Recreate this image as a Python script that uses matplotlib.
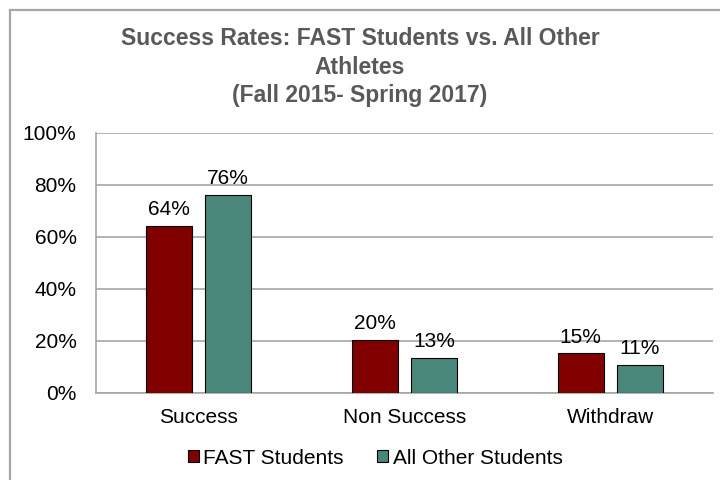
import matplotlib
matplotlib.use("Agg")
import matplotlib.pyplot as plt
import numpy as np
from matplotlib.lines import Line2D

categories = ["Success", "Non Success", "Withdraw"]
series_names = ["FAST Students", "All Other Students"]
fast_values = [0.644, 0.205, 0.152]
other_values = [0.76, 0.134, 0.106]
yticks = [0, 0.2, 0.4, 0.6, 0.8, 1.0]
ytick_labels = ["0%", "20%", "40%", "60%", "80%", "100%"]
title = "Success Rates: FAST Students vs. All Other\nAthletes\n(Fall 2015- Spring 2017)"

plt.rcParams['font.family'] = ['Liberation Sans', 'DejaVu Sans']

fig = plt.figure(figsize=(7.2, 4.8), dpi=100)
ax = fig.add_axes([96/720, 1-393/480, 617/720, 260/480])

x = np.arange(len(categories))
w = 0.224
off = 0.143
c_fast = "#800000"
c_other = "#4A877B"
b1 = ax.bar(x - off, fast_values, w, color=c_fast, edgecolor="black", linewidth=0.8, label=series_names[0], zorder=3)
b2 = ax.bar(x + off, other_values, w, color=c_other, edgecolor="black", linewidth=0.8, label=series_names[1], zorder=3)

for bars, vals in ((b1, fast_values), (b2, other_values)):
    for r, v in zip(bars, vals):
        ax.annotate(f"{v*100:.0f}%", (r.get_x() + r.get_width()/2, v),
                    xytext=(0, 5), textcoords="offset points",
                    ha="center", va="bottom", fontsize=15, color="black", zorder=4)

ax.set_xlim(-0.5, 2.5)
ax.set_ylim(0, 1.0)
ax.set_yticks(yticks)
ax.set_yticklabels(ytick_labels, fontsize=15)
ax.set_xticks(x)
ax.set_xticklabels(categories, fontsize=15)
ax.tick_params(axis="y", length=0, pad=14)
ax.tick_params(axis="x", length=0, pad=11)
ax.yaxis.grid(True, color="#A6A6A6", linewidth=1.2, zorder=0)
for s in ["top", "right"]:
    ax.spines[s].set_visible(False)
ax.spines["left"].set_color("#A6A6A6")
ax.spines["bottom"].set_color("#A6A6A6")
ax.spines["left"].set_linewidth(1.2)
ax.spines["bottom"].set_linewidth(1.2)

fig.text(360/720, 1-67/480, title, ha="center", va="center", fontsize=16.5,
         fontweight="bold", color="#595959", linespacing=1.3)

leg = fig.legend(handles=[b1, b2], labels=series_names, loc="center",
                 bbox_to_anchor=(375/720, 1-458/480), ncol=2, frameon=False,
                 fontsize=15, handlelength=0.55, handleheight=0.55,
                 handletextpad=0.2, columnspacing=1.6)

# outer frame lines (top and left)
fig.add_artist(Line2D([10/720, 1], [1-10/480, 1-10/480], color="#A6A6A6", linewidth=1.6))
fig.add_artist(Line2D([10/720, 10/720], [0, 1-10/480], color="#A6A6A6", linewidth=1.6))

fig.savefig("out.png", dpi=100)
